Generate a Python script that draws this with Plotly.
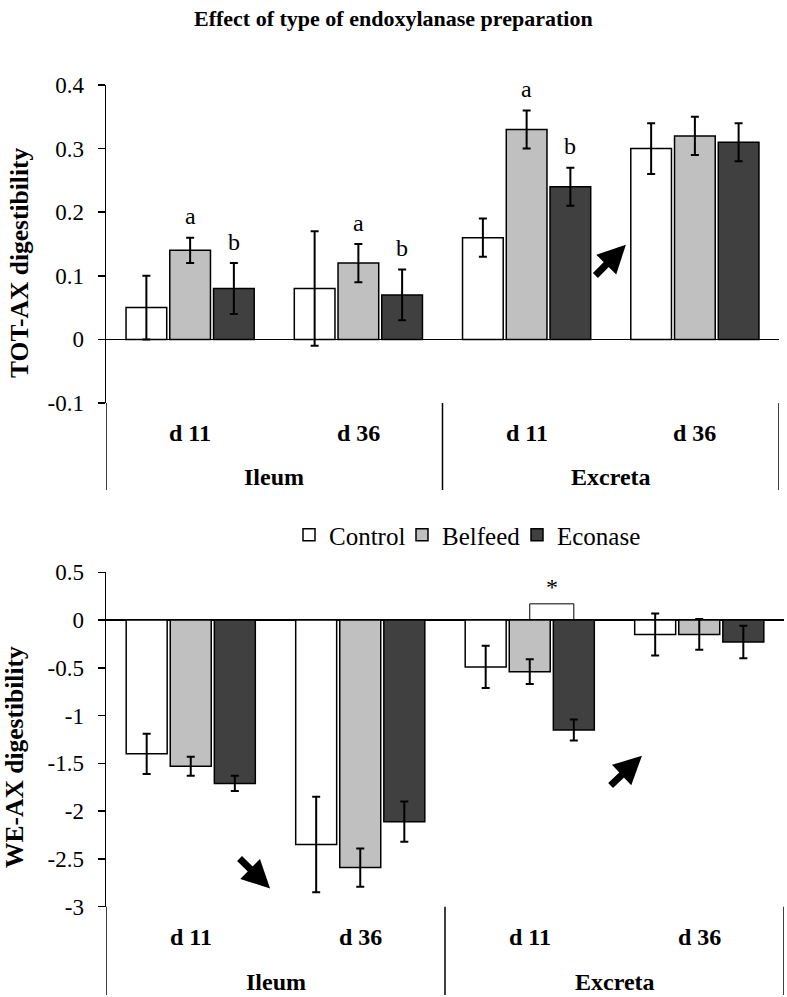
import plotly.graph_objects as go

# ---------------- data ----------------
sites = ["Ileum", "Ileum", "Excreta", "Excreta"]
days = ["d 11", "d 36", "d 11", "d 36"]
categories = [s + " " + d for s, d in zip(sites, days)]
treatments = ["Control", "Belfeed", "Econase"]

tot_values = {
    "Control": [0.05, 0.08, 0.16, 0.30],
    "Belfeed": [0.14, 0.12, 0.33, 0.32],
    "Econase": [0.08, 0.07, 0.24, 0.31],
}
tot_errors = {
    "Control": [0.05, 0.09, 0.03, 0.04],
    "Belfeed": [0.02, 0.03, 0.03, 0.03],
    "Econase": [0.04, 0.04, 0.03, 0.03],
}
tot_letters = {
    "Belfeed": ["a", "a", "a", ""],
    "Econase": ["b", "b", "b", ""],
}

we_values = {
    "Control": [-1.40, -2.35, -0.49, -0.15],
    "Belfeed": [-1.53, -2.59, -0.54, -0.15],
    "Econase": [-1.71, -2.11, -1.15, -0.23],
}
we_errors = {
    "Control": [0.21, 0.50, 0.22, 0.22],
    "Belfeed": [0.10, 0.20, 0.13, 0.16],
    "Econase": [0.08, 0.21, 0.11, 0.17],
}

tot_ticks = [0.4, 0.3, 0.2, 0.1, 0, -0.1]
tot_ticktext = ["0.4", "0.3", "0.2", "0.1", "0", "-0.1"]
we_ticks = [0.5, 0, -0.5, -1, -1.5, -2, -2.5, -3]
we_ticktext = ["0.5", "0", "-0.5", "-1", "-1.5", "-2", "-2.5", "-3"]

colors = {"Control": "#ffffff", "Belfeed": "#c0c0c0", "Econase": "#404040"}

# ---------------- layout helpers ----------------
W, H = 787, 997
FONT = "Liberation Serif"
FS = 24
BARGAP = 0.22


def fnt(size=FS):
    return dict(family=FONT, size=size, color="black")


def px(x):
    return x / W


def py(y):
    return (H - y) / H


top_x = [px(106), px(779)]
top_y = [py(403), py(85)]
bot_x = [px(106), px(784)]
bot_y = [py(906.7), py(572.3)]

legend_ids = {"Control": "legend", "Belfeed": "legend2", "Econase": "legend3"}
legend_x = {"Control": 289, "Belfeed": 402, "Econase": 517}

fig = go.Figure()

for t in treatments:
    fig.add_trace(go.Bar(
        x=categories, y=tot_values[t], name=t, xaxis="x", yaxis="y",
        marker=dict(color=colors[t], line=dict(color="black", width=1.5)),
        error_y=dict(type="data", array=tot_errors[t], color="black",
                     thickness=2, width=4),
        showlegend=False,
    ))
    fig.add_trace(go.Bar(
        x=categories, y=we_values[t], name=t, xaxis="x2", yaxis="y2",
        marker=dict(color=colors[t], line=dict(color="black", width=1.5)),
        error_y=dict(type="data", array=we_errors[t], color="black",
                     thickness=2, width=4),
        showlegend=True, legend=legend_ids[t],
    ))

axis_common = dict(showgrid=False, showline=False, showticklabels=False,
                   ticks="", range=[-0.5, 3.5], fixedrange=True,
                   automargin=False, zeroline=False,
                   type="category", categoryorder="array",
                   categoryarray=categories)

yaxis_common = dict(ticks="outside", ticklen=7, tickwidth=1.5,
                    tickcolor="black", showline=True, linecolor="black",
                    linewidth=1.5, showgrid=False, zeroline=True,
                    zerolinecolor="black", zerolinewidth=1.5,
                    tickfont=fnt(23), ticklabelstandoff=9,
                    fixedrange=True, automargin=False)


def legend_box(t):
    return dict(orientation="h", x=px(legend_x[t]), xanchor="left",
                y=py(535), yanchor="middle", font=fnt(25),
                bgcolor="rgba(0,0,0,0)", itemclick=False,
                itemdoubleclick=False)


fig.update_layout(
    template="none",
    width=W, height=H,
    margin=dict(l=0, r=0, t=0, b=0, pad=0, autoexpand=False),
    paper_bgcolor="white", plot_bgcolor="white",
    barmode="group", bargap=BARGAP, bargroupgap=0.07,
    font=fnt(),
    xaxis=dict(domain=top_x, anchor="y", **axis_common),
    yaxis=dict(domain=top_y, anchor="x", range=[-0.1, 0.4],
               tickvals=tot_ticks, ticktext=tot_ticktext, **yaxis_common),
    xaxis2=dict(domain=bot_x, anchor="y2", **axis_common),
    yaxis2=dict(domain=bot_y, anchor="x2", range=[-3, 0.5],
                tickvals=we_ticks, ticktext=we_ticktext, **yaxis_common),
    legend=legend_box("Control"),
    legend2=legend_box("Belfeed"),
    legend3=legend_box("Econase"),
    showlegend=True,
)

annotations = []
shapes = []

# title
annotations.append(dict(text="<b>Effect of type of endoxylanase preparation</b>",
                        x=px(393), y=py(18), xref="paper", yref="paper",
                        showarrow=False, font=fnt(22),
                        xanchor="center", yanchor="middle"))
# y titles
annotations.append(dict(text="<b>TOT-AX digestibility</b>", x=px(19), y=py(263),
                        xref="paper", yref="paper", showarrow=False,
                        textangle=-90, font=fnt(25.5), xanchor="center",
                        yanchor="middle"))
annotations.append(dict(text="<b>WE-AX digestibility</b>", x=px(14), y=py(757),
                        xref="paper", yref="paper", showarrow=False,
                        textangle=-90, font=fnt(25.5), xanchor="center",
                        yanchor="middle"))

slot = (1 - BARGAP) / 3

# category labels and dividers
panels = [
    dict(xr="x", day_y=433, site_y=477, div_top=403, div_bot=490),
    dict(xr="x2", day_y=937, site_y=982, div_top=906.7, div_bot=995),
]
for p in panels:
    for i, d in enumerate(days):
        annotations.append(dict(text="<b>%s</b>" % d, x=i, y=py(p["day_y"]),
                                xref=p["xr"], yref="paper", showarrow=False,
                                font=fnt(), yanchor="middle"))
    for j, s in enumerate(["Ileum", "Excreta"]):
        annotations.append(dict(text="<b>%s</b>" % s, x=2 * j + 0.5,
                                y=py(p["site_y"]), xref=p["xr"], yref="paper",
                                showarrow=False, font=fnt(),
                                yanchor="middle"))
    for xd in [-0.5, 1.5, 3.5]:
        shapes.append(dict(type="line", xref=p["xr"], yref="paper",
                           x0=xd, x1=xd, y0=py(p["div_top"]),
                           y1=py(p["div_bot"]),
                           line=dict(color="black", width=1.5)))

# significance letters (top panel)
offsets = {"Control": -slot, "Belfeed": 0.0, "Econase": slot}
for t, letters in tot_letters.items():
    for i, L in enumerate(letters):
        if not L:
            continue
        top = tot_values[t][i] + tot_errors[t][i]
        annotations.append(dict(text=L, x=i + offsets[t], y=top + 0.01,
                                xref="x", yref="y", showarrow=False,
                                font=fnt(), yanchor="bottom"))

# arrows
arrows = [
    dict(xr="x", yr="y", ax=2.40, ay=0.098, x=2.59, y=0.149),
    dict(xr="x2", yr="y2", ax=0.279, ay=-2.48, x=0.468, y=-2.81),
    dict(xr="x2", yr="y2", ax=2.468, ay=-1.746, x=2.662, y=-1.42),
]
for a in arrows:
    annotations.append(dict(x=a["x"], y=a["y"], ax=a["ax"], ay=a["ay"],
                            xref=a["xr"], yref=a["yr"], axref=a["xr"],
                            ayref=a["yr"], showarrow=True, arrowhead=2,
                            arrowsize=0.8, arrowwidth=7, arrowcolor="black",
                            text=""))

# significance bracket (bottom panel, Excreta d 11 Belfeed vs Econase)
bx0 = 2 + offsets["Belfeed"]
bx1 = 2 + offsets["Econase"]
shapes.append(dict(type="path", xref="x2", yref="y2",
                   path="M %f,0 L %f,0.17 L %f,0.17 L %f,0" % (bx0, bx0, bx1, bx1),
                   line=dict(color="black", width=1)))
annotations.append(dict(text="*", x=(bx0 + bx1) / 2, y=0.19, xref="x2",
                        yref="y2", showarrow=False, font=fnt(),
                        yanchor="bottom"))

fig.update_layout(annotations=annotations, shapes=shapes)

fig.write_html("out.html",
               config={"displayModeBar": False, "staticPlot": True},
               post_script="document.body.style.margin='0px';"
                           "document.body.style.padding='0px';")
